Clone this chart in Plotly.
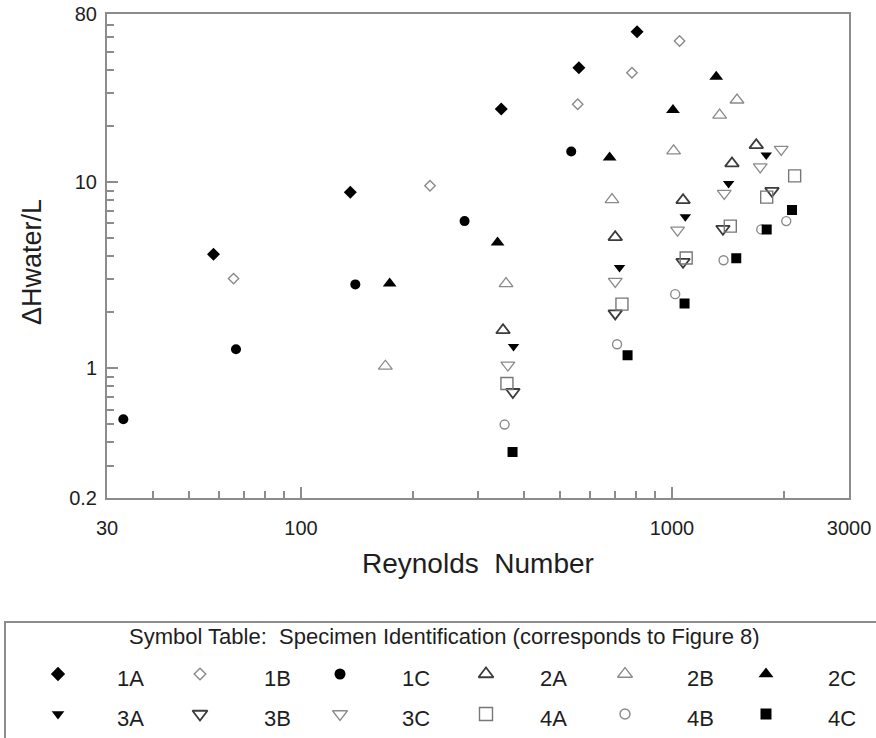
import plotly.graph_objects as go

# Reynolds number (x) and head loss per unit length (y) for each specimen
re_1a = [58.1, 135.8, 346.6, 561, 805]
dh_1a = [4.10, 8.83, 24.7, 41.2, 64.3]

re_1b = [65.8, 222.7, 557, 780, 1048]
dh_1b = [3.03, 9.55, 26.2, 38.7, 57.3]

re_1c = [33.2, 66.8, 140.1, 276, 535]
dh_1c = [0.532, 1.265, 2.82, 6.17, 14.6]

re_2a = [350.4, 703, 1071, 1451, 1687]
dh_2a = [1.60, 5.06, 8.0, 12.6, 15.8]

re_2b = [168.8, 357, 689, 1010, 1344, 1497]
dh_2b = [1.025, 2.85, 8.05, 14.7, 22.9, 27.6]

re_2c = [173.4, 338.7, 679, 1006, 1316]
dh_2c = [2.85, 4.74, 13.57, 24.4, 36.8]

re_3a = [374, 722, 1086, 1421, 1795]
dh_3a = [1.31, 3.48, 6.51, 9.84, 13.96]

re_3b = [372.5, 703, 1071, 1372, 1860]
dh_3b = [0.745, 1.97, 3.73, 5.61, 8.97]

re_3c = [361, 703, 1035, 1383, 1729, 1970]
dh_3c = [1.04, 2.93, 5.52, 8.69, 12.08, 14.98]

re_4a = [359, 733, 1092, 1436, 1800, 2141]
dh_4a = [0.827, 2.21, 3.91, 5.80, 8.30, 10.8]

re_4b = [353.9, 711, 1020, 1377, 1740, 2032]
dh_4b = [0.498, 1.345, 2.50, 3.80, 5.57, 6.17]

re_4c = [371.7, 759, 1081, 1490, 1800, 2106]
dh_4c = [0.355, 1.175, 2.23, 3.90, 5.57, 7.07]

x_tick_vals = [30, 100, 1000, 3000]
x_tick_text = ["30", "100", "1000", "3000"]
x_minor_vals = [40, 50, 60, 70, 80, 90, 200, 300, 400, 500, 600, 700, 800, 900, 2000]
y_tick_vals = [0.2, 1, 10, 80]
y_tick_text = ["0.2", "1", "10", "80"]
y_minor_vals = [0.3, 0.4, 0.5, 0.6, 0.7, 0.8, 0.9, 2, 3, 4, 5, 6, 7, 8, 9,
                20, 30, 40, 50, 60, 70]

x_title = "Reynolds\u00a0 Number"
y_title = "\u0394Hwater/L"
table_title = "Symbol Table:\u00a0 Specimen Identification (corresponds to Figure\u00a08)"

specimen_labels = ["1A", "1B", "1C", "2A", "2B", "2C",
                   "3A", "3B", "3C", "4A", "4B", "4C"]

# marker styles per specimen: symbol, colour, size, outline width
DARK = "#3c3c3c"
LIGHT = "#8a8a8a"
styles = {
    "1A": dict(symbol="diamond", color="black", size=10, lw=0),
    "1B": dict(symbol="diamond-open", color=LIGHT, size=8, lw=1.4),
    "1C": dict(symbol="circle", color="black", size=10, lw=0),
    "2A": dict(symbol="triangle-up-open", color=DARK, size=12, lw=1.8),
    "2B": dict(symbol="triangle-up-open", color=LIGHT, size=12, lw=1.3),
    "2C": dict(symbol="triangle-up", color="black", size=12, lw=0),
    "3A": dict(symbol="triangle-down", color="black", size=10, lw=0),
    "3B": dict(symbol="triangle-down-open", color=DARK, size=12, lw=1.8),
    "3C": dict(symbol="triangle-down-open", color=LIGHT, size=12, lw=1.3),
    "4A": dict(symbol="square-open", color="#777777", size=12, lw=1.4),
    "4B": dict(symbol="circle-open", color=LIGHT, size=9, lw=1.4),
    "4C": dict(symbol="square", color="black", size=10, lw=0),
}

series = {
    "1A": (re_1a, dh_1a), "1B": (re_1b, dh_1b), "1C": (re_1c, dh_1c),
    "2A": (re_2a, dh_2a), "2B": (re_2b, dh_2b), "2C": (re_2c, dh_2c),
    "3A": (re_3a, dh_3a), "3B": (re_3b, dh_3b), "3C": (re_3c, dh_3c),
    "4A": (re_4a, dh_4a), "4B": (re_4b, dh_4b), "4C": (re_4c, dh_4c),
}

W, H = 876, 738
FONT = "Liberation Sans, Arial, sans-serif"
AXIS_GREY = "#8c8c8c"
TEXT = "#1e1e1e"

# plot frame in pixels
left, right, top, bottom = 107, 849, 14, 498.3

fig = go.Figure()

for name, (xs, ys) in series.items():
    st = styles[name]
    fig.add_trace(go.Scatter(
        x=xs, y=ys, mode="markers", name=name, showlegend=False,
        xaxis="x", yaxis="y",
        marker=dict(symbol=st["symbol"], color=st["color"], size=st["size"],
                    line=dict(color=st["color"], width=st["lw"])),
    ))

# symbol table below the chart, laid out on a pixel-space overlay axis
sym_cols = [58, 200, 340, 486, 625, 766]
lab_cols = [130, 277, 416, 553, 700, 842]
sym_rows = [674, 714]
lab_rows = [678, 718]

for i, name in enumerate(specimen_labels):
    r, c = divmod(i, 6)
    st = styles[name]
    fig.add_trace(go.Scatter(
        x=[sym_cols[c]], y=[sym_rows[r]], mode="markers", showlegend=False,
        xaxis="x2", yaxis="y2", cliponaxis=False,
        marker=dict(symbol=st["symbol"], color=st["color"], size=st["size"] + 1,
                    line=dict(color=st["color"], width=st["lw"])),
    ))
    fig.add_annotation(x=lab_cols[c], y=lab_rows[r], xref="x2", yref="y2",
                       text=name, showarrow=False, xanchor="center", yanchor="middle",
                       font=dict(family=FONT, size=22, color=TEXT))

fig.add_annotation(x=444, y=636, xref="x2", yref="y2", text=table_title,
                   showarrow=False, xanchor="center", yanchor="middle",
                   font=dict(family=FONT, size=22, color=TEXT))

fig.add_shape(type="rect", xref="x2", yref="y2", x0=5, x1=890, y0=622, y1=760,
              line=dict(color=AXIS_GREY, width=2), fillcolor="rgba(0,0,0,0)")

# axis titles
fig.add_annotation(x=478, y=563, xref="x2", yref="y2", text=x_title,
                   showarrow=False, xanchor="center", yanchor="middle",
                   font=dict(family=FONT, size=28, color=TEXT))
fig.add_annotation(x=32, y=262, xref="x2", yref="y2", text=y_title, textangle=-90,
                   showarrow=False, xanchor="center", yanchor="middle",
                   font=dict(family=FONT, size=27, color=TEXT))

fig.update_layout(
    width=W, height=H, autosize=False,
    margin=dict(l=0, r=0, t=0, b=0, autoexpand=False),
    paper_bgcolor="white",
    plot_bgcolor="rgba(0,0,0,0)",
    showlegend=False,
    xaxis=dict(
        type="log", range=[1.4771, 3.4771],
        domain=[left / W, right / W], anchor="y",
        showgrid=False, zeroline=False,
        showline=True, mirror=True, linecolor=AXIS_GREY, linewidth=2,
        ticks="inside", ticklen=11, tickwidth=1.5, tickcolor=AXIS_GREY,
        tickmode="array", tickvals=x_tick_vals, ticktext=x_tick_text,
        ticklabelstandoff=11,
        tickfont=dict(family=FONT, size=20, color=TEXT),
        minor=dict(tickmode="array", tickvals=x_minor_vals, ticks="inside",
                   ticklen=7, tickwidth=1.5, tickcolor=AXIS_GREY, showgrid=False),
    ),
    yaxis=dict(
        type="log", range=[-0.69897, 1.90309],
        domain=[(H - bottom) / H, (H - top) / H], anchor="x",
        showgrid=False, zeroline=False,
        showline=True, mirror=True, linecolor=AXIS_GREY, linewidth=2,
        ticks="inside", ticklen=11, tickwidth=1.5, tickcolor=AXIS_GREY,
        tickmode="array", tickvals=y_tick_vals, ticktext=y_tick_text,
        ticklabelstandoff=4,
        tickfont=dict(family=FONT, size=20, color=TEXT),
        minor=dict(tickmode="array", tickvals=y_minor_vals, ticks="inside",
                   ticklen=7, tickwidth=1.5, tickcolor=AXIS_GREY, showgrid=False),
    ),
    xaxis2=dict(domain=[0, 1], range=[0, W], anchor="y2", visible=False,
                showgrid=False, zeroline=False, fixedrange=True),
    yaxis2=dict(domain=[0, 1], range=[H, 0], anchor="x2", visible=False,
                showgrid=False, zeroline=False, fixedrange=True),
)

fig.write_html(
    "out.html",
    config={"responsive": False, "displayModeBar": False},
    default_width=f"{W}px", default_height=f"{H}px",
    post_script="document.body.style.margin='0';document.body.style.overflow='hidden';",
)
